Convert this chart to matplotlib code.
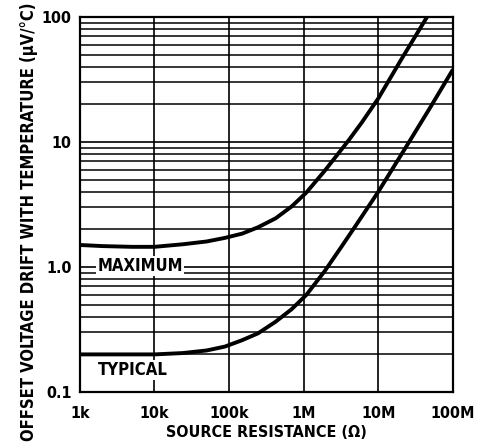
import matplotlib.pyplot as plt
from matplotlib.ticker import FixedLocator, LogLocator, NullFormatter

# Source resistance (ohm) and drift (uV/C)
r_max = [1e3, 2e3, 5e3, 1e4, 2.4e4, 5e4, 8.8e4, 1.5e5, 2.45e5, 4.2e5, 6.9e5, 1.09e6, 1.92e6,
         3.95e6, 6e6, 1e7, 2e7, 4.5e7]
v_max = [1.5, 1.47, 1.45, 1.45, 1.52, 1.6, 1.71, 1.85, 2.08, 2.45, 3.05, 3.95, 5.9,
         10.2, 14.3, 22.3, 45.0, 100.0]

r_typ = [1e3, 3e3, 1e4, 2.4e4, 5e4, 8.8e4, 1.5e5, 2.45e5, 4.2e5, 6.9e5, 1.09e6, 1.92e6, 3.2e6,
         5e6, 1e7, 2.4e7, 5e7, 1e8]
v_typ = [0.2, 0.2, 0.2, 0.205, 0.215, 0.231, 0.26, 0.295, 0.365, 0.46, 0.6, 0.93, 1.45,
         2.15, 4.0, 9.3, 19.0, 38.0]

x_ticks = [1e3, 1e4, 1e5, 1e6, 1e7, 1e8]
x_labels = ['1k', '10k', '100k', '1M', '10M', '100M']
y_ticks = [0.1, 1, 10, 100]
y_labels = ['0.1', '1.0', '10', '100']

plt.rcParams['font.family'] = ['DejaVu Sans']
plt.rcParams['font.stretch'] = 'condensed'
plt.rcParams['font.weight'] = 'bold'

fig = plt.figure(figsize=(4.87, 4.46), dpi=100)
ax = fig.add_axes([0.164, 0.121, 0.766, 0.841])

ax.plot(r_max, v_max, color='black', linewidth=2.8, solid_capstyle='butt', zorder=3)
ax.plot(r_typ, v_typ, color='black', linewidth=2.8, solid_capstyle='butt', zorder=3)

ax.set_xscale('log')
ax.set_yscale('log')
ax.set_xlim(1e3, 1e8)
ax.set_ylim(0.1, 100)

ax.xaxis.set_major_locator(FixedLocator(x_ticks))
ax.set_xticklabels(x_labels)
ax.xaxis.set_minor_locator(FixedLocator([]))
ax.yaxis.set_major_locator(FixedLocator(y_ticks))
ax.set_yticklabels(y_labels)
ax.yaxis.set_minor_locator(LogLocator(base=10, subs=range(2, 10)))
ax.yaxis.set_minor_formatter(NullFormatter())

ax.grid(True, which='major', color='black', linewidth=1.2)
ax.grid(True, which='minor', axis='y', color='black', linewidth=1.1)
ax.tick_params(which='both', length=0, labelsize=11.5)
ax.tick_params(axis='x', pad=10)
ax.tick_params(axis='y', pad=6)
for s in ax.spines.values():
    s.set_linewidth(1.6)

ax.text(1.72e3, 1.02, 'MAXIMUM', fontsize=12, fontweight='bold', va='center', ha='left',
        bbox=dict(facecolor='white', edgecolor='none', pad=1.0), zorder=4)
ax.text(1.72e3, 0.15, 'TYPICAL', fontsize=12, fontweight='bold', va='center', ha='left',
        bbox=dict(facecolor='white', edgecolor='none', pad=1.0), zorder=4)

ax.set_xlabel('SOURCE RESISTANCE (Ω)', fontsize=11.5, fontweight='bold', labelpad=3)
ax.set_ylabel('OFFSET VOLTAGE DRIFT WITH TEMPERATURE (µV/°C)', fontsize=11.9,
              fontweight='bold')
ax.yaxis.set_label_coords(-0.113, 0.453)

fig.savefig('out.png', dpi=100)
